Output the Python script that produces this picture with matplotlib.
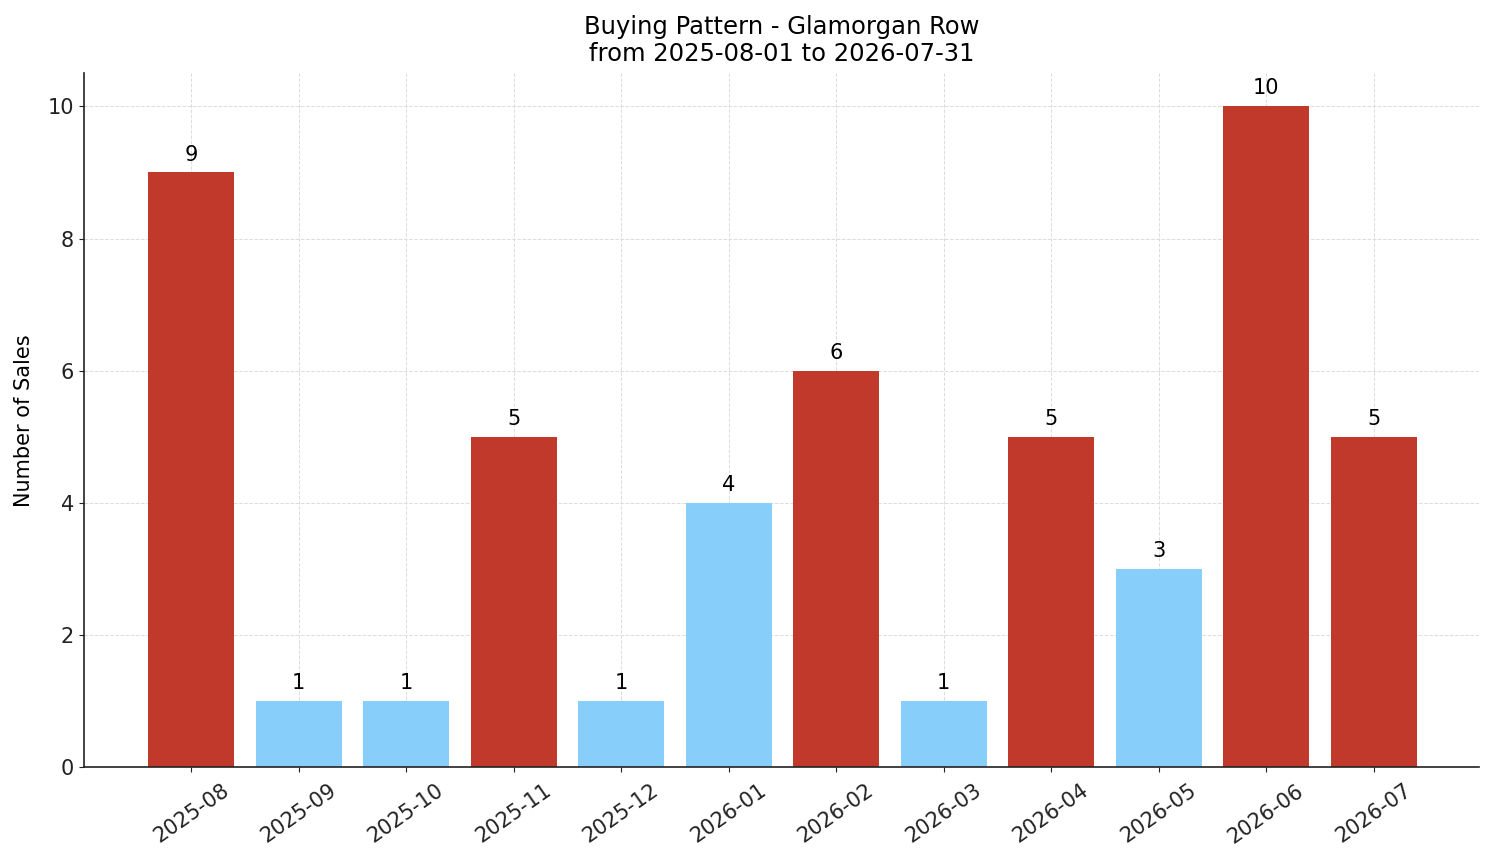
import matplotlib
matplotlib.use("Agg")
import matplotlib.pyplot as plt

months = ["2025-08", "2025-09", "2025-10", "2025-11", "2025-12", "2026-01",
          "2026-02", "2026-03", "2026-04", "2026-05", "2026-06", "2026-07"]
sales = [9, 1, 1, 5, 1, 4, 6, 1, 5, 3, 10, 5]
threshold = 5

colors = ["#c0392b" if v >= threshold else "#87cefa" for v in sales]

fig, ax = plt.subplots(figsize=(14.94, 8.63), dpi=100)
bars = ax.bar(months, sales, color=colors, width=0.8, zorder=2)
for b, v in zip(bars, sales):
    ax.text(b.get_x() + b.get_width() / 2, v + 0.12, str(v), ha="center", va="bottom", fontsize=15)

ax.set_title("Buying Pattern - Glamorgan Row\nfrom 2025-08-01 to 2026-07-31", fontsize=17.5, linespacing=1.15, pad=9)
ax.set_ylabel("Number of Sales", fontsize=15, labelpad=10)
ax.grid(True, linestyle="--", color="#dcdcdc", linewidth=0.7, zorder=0)
ax.set_axisbelow(True)
ax.spines["top"].set_visible(False)
ax.spines["right"].set_visible(False)
for s in ("left", "bottom"):
    ax.spines[s].set_color("#222222")
    ax.spines[s].set_linewidth(1.2)
ax.tick_params(axis="x", labelsize=15, rotation=35, colors="#222222", pad=6)
ax.tick_params(axis="y", labelsize=15, colors="#222222")
ax.set_ylim(0, 10.5)
ax.set_yticks([0, 2, 4, 6, 8, 10])
ax.set_xlim(-1.0, 11.98)
fig.subplots_adjust(left=0.056, right=0.99, top=0.915, bottom=0.111)
fig.savefig("out.png", dpi=100)
